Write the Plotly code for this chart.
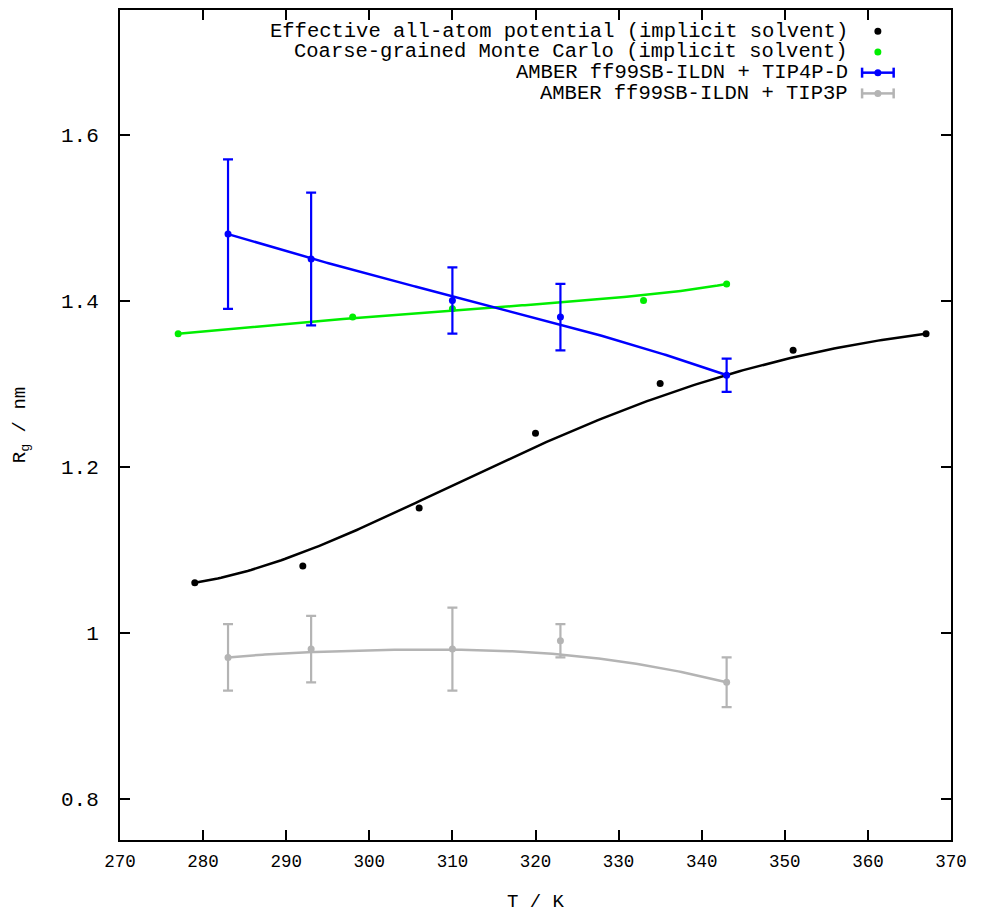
import numpy as np
from math import comb
import plotly.graph_objects as go

# ---- data ----
T_eff = [279, 292, 306, 320, 335, 351, 367]
Rg_eff = [1.06, 1.08, 1.15, 1.24, 1.30, 1.34, 1.36]

T_cg = [277, 298, 310, 333, 343]
Rg_cg = [1.36, 1.38, 1.39, 1.40, 1.42]

T_tip4pd = [283, 293, 310, 323, 343]
Rg_tip4pd = [1.48, 1.45, 1.40, 1.38, 1.31]
Rg_tip4pd_hi = [1.57, 1.53, 1.44, 1.42, 1.33]
Rg_tip4pd_lo = [1.39, 1.37, 1.36, 1.34, 1.29]

T_tip3p = [283, 293, 310, 323, 343]
Rg_tip3p = [0.97, 0.98, 0.98, 0.99, 0.94]
Rg_tip3p_hi = [1.01, 1.02, 1.03, 1.01, 0.97]
Rg_tip3p_lo = [0.93, 0.94, 0.93, 0.97, 0.91]

names = ["Effective all-atom potential (implicit solvent)",
         "Coarse-grained Monte Carlo (implicit solvent)",
         "AMBER ff99SB-ILDN + TIP4P-D",
         "AMBER ff99SB-ILDN + TIP3P"]
colors = ["#000000", "#00ee00", "#0000ff", "#b4b4b4"]

x_ticks = [270, 280, 290, 300, 310, 320, 330, 340, 350, 360, 370]
y_ticks = [0.8, 1.0, 1.2, 1.4, 1.6]
y_tick_text = ["0.8", "1", "1.2", "1.4", "1.6"]

FONT = "Liberation Mono"


def bezier(x, y, n_out=200):
    """Bezier smoothing with the data points as control points."""
    n = len(x) - 1
    t = np.linspace(0, 1, n_out)
    bx = np.zeros_like(t)
    by = np.zeros_like(t)
    for i in range(n + 1):
        b = comb(n, i) * (1 - t) ** (n - i) * t ** i
        bx += b * x[i]
        by += b * y[i]
    return bx, by


fig = go.Figure()

series = [
    (T_eff, Rg_eff, None, None),
    (T_cg, Rg_cg, None, None),
    (T_tip4pd, Rg_tip4pd, Rg_tip4pd_hi, Rg_tip4pd_lo),
    (T_tip3p, Rg_tip3p, Rg_tip3p_hi, Rg_tip3p_lo),
]

for (x, y, hi, lo), col, name in zip(series, colors, names):
    xs, ys = bezier(x, y)
    fig.add_trace(go.Scatter(x=xs, y=ys, mode="lines",
                             line=dict(color=col, width=2.5),
                             showlegend=False, hoverinfo="skip"))
    err = None
    if hi is not None:
        err = dict(type="data", symmetric=False,
                   array=[h - v for h, v in zip(hi, y)],
                   arrayminus=[v - l for v, l in zip(y, lo)],
                   color=col, thickness=2.2, width=5)
    fig.add_trace(go.Scatter(x=x, y=y, mode="markers", name=name,
                             marker=dict(color=col, size=7),
                             error_y=err, showlegend=False))

# ---- custom legend (text right-aligned, sample on the right) ----
leg_y = [0.9745, 0.9495, 0.9245, 0.8995]
text_x = 0.878
sym_x = 0.912
shapes = []
annotations = []
for i, (name, col) in enumerate(zip(names, colors)):
    annotations.append(dict(x=text_x, y=leg_y[i], xref="paper", yref="paper",
                            text=name, showarrow=False, xanchor="right",
                            yanchor="middle", height=19, valign="middle",
                            font=dict(family=FONT, size=20.5, color="black")))
    if i >= 2:
        shapes.append(dict(type="line", xref="paper", yref="paper",
                           x0=0.893, x1=0.931, y0=leg_y[i], y1=leg_y[i],
                           line=dict(color=col, width=2.5)))
        for xe in (0.893, 0.931):
            shapes.append(dict(type="line", xref="paper", yref="paper",
                               xsizemode="scaled", ysizemode="pixel",
                               yanchor=leg_y[i], x0=xe, x1=xe, y0=-5, y1=5,
                               line=dict(color=col, width=2.5)))
    shapes.append(dict(type="circle", xref="paper", yref="paper",
                       xsizemode="pixel", ysizemode="pixel",
                       xanchor=sym_x, yanchor=leg_y[i],
                       x0=-3.5, x1=3.5, y0=-3.5, y1=3.5,
                       fillcolor=col, line=dict(color=col, width=0)))

fig.update_layout(
    width=981, height=913,
    margin=dict(l=120, r=30, t=10, b=73),
    paper_bgcolor="white", plot_bgcolor="white",
    shapes=shapes, annotations=annotations,
    font=dict(family=FONT, color="black"),
    showlegend=False,
)
fig.update_xaxes(range=[270, 370], tickvals=x_ticks, ticks="inside", ticklen=10,
                 tickwidth=1.5, tickcolor="black", mirror="ticks",
                 showline=True, linecolor="black", linewidth=2,
                 showgrid=False, zeroline=False, automargin=False,
                 tickfont=dict(family=FONT, size=17.5), ticklabelstandoff=4,
                 title=dict(text="T / K", font=dict(family=FONT, size=19), standoff=32))
fig.update_yaxes(range=[0.75, 1.75], tickvals=y_ticks, ticktext=y_tick_text,
                 ticks="inside", ticklen=10,
                 tickwidth=1.5, tickcolor="black", mirror="ticks",
                 showline=True, linecolor="black", linewidth=2,
                 showgrid=False, zeroline=False, automargin=False,
                 tickfont=dict(family=FONT, size=21), ticklabelstandoff=15,
                 title=dict(text="R<sub>g</sub> / nm", font=dict(family=FONT, size=19),
                            standoff=30))

fig.write_html("out.html", config={"displayModeBar": False},
               post_script="document.body.style.margin='0px';document.body.style.padding='0px';")
